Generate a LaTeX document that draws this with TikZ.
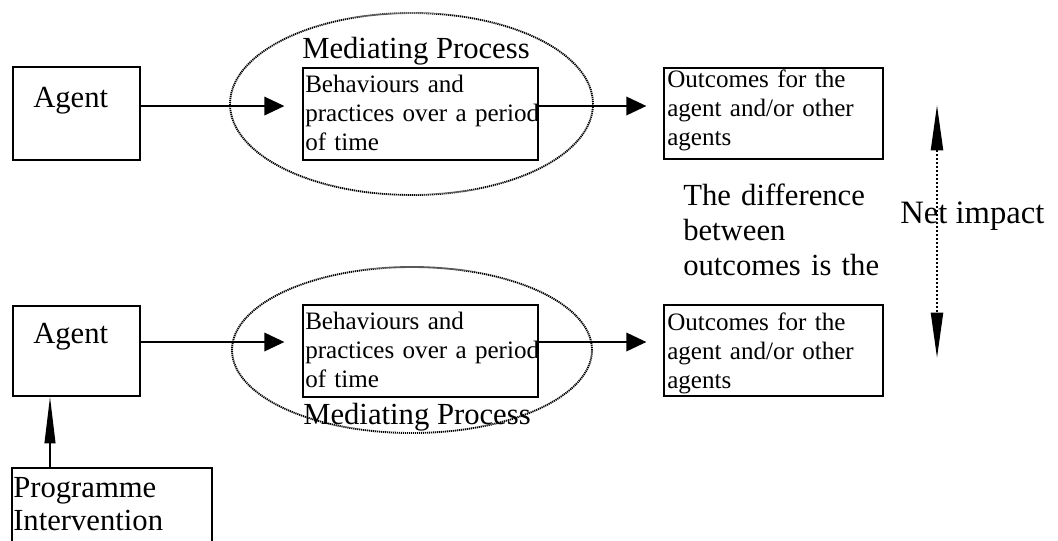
\documentclass[tikz,border=0pt]{standalone}
\usepackage{fontspec}
\setmainfont{Liberation Serif}
\usetikzlibrary{arrows.meta,shapes.geometric}
\begin{document}
\begin{tikzpicture}[x=0.75pt,y=-0.75pt,
  box/.style={draw,line width=1pt,rectangle,inner sep=0pt},
  med/.style={draw,ellipse,line width=1.4pt,dash pattern=on 0.9pt off 0.6pt,inner sep=0pt},
  big/.style={inner sep=0pt,anchor=base west,font=\fontsize{23}{26}\selectfont},
  bigml/.style={inner sep=0pt,anchor=base west,text width=200pt,align=left,font=\fontsize{23}{26.25}\selectfont},
  small/.style={inner sep=0pt,anchor=base west,text width=200pt,align=left,font=\fontsize{18.8}{21.75}\selectfont},
  flow/.style={line width=1pt,-{Triangle[length=15pt,width=14pt]}},
  netarrow/.style={line width=1.6pt,dash pattern=on 2pt off 1pt,{Triangle[length=34pt,width=9pt]}-{Triangle[length=34pt,width=9pt]}},
  progarrow/.style={line width=1.4pt,-{Triangle[length=35pt,width=8pt]}}
]
\useasboundingbox (0,0) rectangle (1058,540);

% mediating process ellipses
\node[med,minimum width=272.25pt,minimum height=136.5pt] (med1) at (411.5,104) {};
\node[med,minimum width=270pt,minimum height=124.5pt] (med2) at (412,350) {};

% top row boxes
\node[box,minimum width=95.25pt,minimum height=69.75pt] (agent1) at (76.5,113.5) {};
\node[box,minimum width=176.25pt,minimum height=69pt] (beh1) at (420.5,114) {};
\node[box,minimum width=164.25pt,minimum height=68.25pt] (out1) at (773.5,113.5) {};

% bottom row boxes
\node[box,minimum width=95.25pt,minimum height=67.5pt] (agent2) at (76.5,351) {};
\node[box,minimum width=176.25pt,minimum height=69pt] (beh2) at (420.5,351) {};
\node[box,minimum width=164.25pt,minimum height=68.25pt] (out2) at (773.5,350.5) {};
\node[box,minimum width=150pt,minimum height=69pt] (prog) at (112,514) {};

% texts
\node[big] (tagent1) at (33,107) {Agent};
\node[big] (tagent2) at (33,343) {Agent};
\node[big] (tmed1) at (302,58) {Mediating Process};
\node[big] (tmed2) at (303,424) {Mediating Process};
\node[small] (tbeh1) at (305,92) {Behaviours and\\practices over a period\\of time};
\node[small] (tbeh2) at (305,329) {Behaviours and\\practices over a period\\of time};
\node[small] (tout1) at (667,87) {Outcomes for the\\agent and/or other\\agents};
\node[small] (tout2) at (667,330) {Outcomes for the\\agent and/or other\\agents};
\node[bigml] (tdiff) at (683,205) {The difference\\between\\outcomes is the};
\node[big,font=\fontsize{24.5}{28}\selectfont] (tnet) at (900,223) {Net impact};
\node[inner sep=0pt,anchor=base west,text width=200pt,align=left,font=\fontsize{23}{24.75}\selectfont] (tprog) at (13,497) {Programme\\Intervention};

% connectors
\draw[flow,shorten >=13.5pt] ([yshift=5.6pt]agent1.east) -- ([yshift=5.6pt]agent1.east -| beh1.west);
\draw[flow,shorten >=12.75pt] ([yshift=6pt]beh1.east) -- ([yshift=6pt]beh1.east -| out1.west);
\draw[flow,shorten >=13.5pt] ([yshift=6.75pt]agent2.east) -- ([yshift=6.75pt]agent2.east -| beh2.west);
\draw[flow,shorten >=12.75pt] ([yshift=6.75pt]beh2.east) -- ([yshift=6.75pt]beh2.east -| out2.west);

\coordinate (nt) at (937,105);
\coordinate (nb) at (937,358);
\draw[netarrow] (nt) -- (nb);

\coordinate (pa) at (50,468);
\draw[progarrow] (pa) -- (pa |- agent2.south);
\end{tikzpicture}
\end{document}
